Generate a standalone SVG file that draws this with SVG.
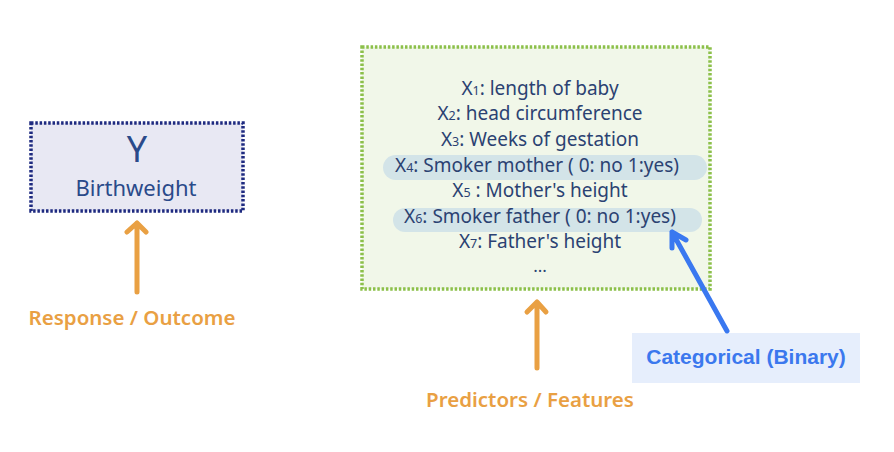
<svg xmlns="http://www.w3.org/2000/svg" width="894" height="452" viewBox="0 0 894 452">
<style>
.t{font-family:"Noto Sans","DejaVu Sans",sans-serif;fill:#2b4272;font-size:19px;text-anchor:middle}
.s{font-size:12.5px}
.lbl{font-family:"Noto Sans","DejaVu Sans",sans-serif;fill:#e9a043;font-size:20.5px;font-weight:600;text-anchor:middle}
.hl{fill:#d3e4e8}
.oa{stroke:#e9a043;stroke-width:5;fill:none;stroke-linecap:round;stroke-linejoin:round}
.ba{stroke:#3a78f0;stroke-width:5;fill:none;stroke-linecap:round;stroke-linejoin:round}
</style>
<rect width="894" height="452" fill="#ffffff"/>
<g id="response">
<rect x="31" y="123" width="212" height="88" fill="#e8e8f3" stroke="#1e2a80" stroke-width="3.5" stroke-dasharray="2.5 1.8"/>
<text x="137" y="162" class="t" style="font-size:36px;fill:#2a4a8a">Y</text>
<text x="136" y="196" class="t" style="font-size:22px;fill:#2a4a8a">Birthweight</text>
</g>
<g id="predictors">
<rect x="362" y="47" width="348" height="242" fill="#f1f7e9" stroke="#8cc04a" stroke-width="3.5" stroke-dasharray="2.5 1.8"/>
<rect x="383" y="155" width="324" height="25" rx="12.5" class="hl"/>
<rect x="393" y="208" width="309" height="24" rx="12" class="hl"/>
<text x="540" y="95" class="t">X<tspan class="s">1</tspan>: length of baby</text>
<text x="540" y="120" class="t">X<tspan class="s">2</tspan>: head circumference</text>
<text x="540" y="146" class="t">X<tspan class="s">3</tspan>: Weeks of gestation</text>
<text x="537" y="172" class="t">X<tspan class="s">4</tspan>: Smoker mother ( 0: no 1:yes)</text>
<text x="540" y="197" class="t">X<tspan class="s">5</tspan> : Mother's height</text>
<text x="540" y="223" class="t">X<tspan class="s">6</tspan>: Smoker father ( 0: no 1:yes)</text>
<text x="540" y="248" class="t">X<tspan class="s">7</tspan>: Father's height</text>
<text x="540" y="272" class="t" style="font-size:17px">...</text>
</g>
<g id="categorical">
<rect x="632" y="333" width="228" height="50" fill="#e6eefc"/>
<text x="746" y="364" style="font-family:'Liberation Sans',Arial,sans-serif;font-size:21px;font-weight:bold;fill:#3b78ee;text-anchor:middle">Categorical (Binary)</text>
</g>
<g id="response-label">
<text x="132" y="325" class="lbl">Response / Outcome</text>
</g>
<g id="predictors-label">
<text x="530" y="407" class="lbl">Predictors / Features</text>
</g>
<g id="connectors">
<path class="oa" d="M137 292 V223 M127 232 L137 223 L146 232"/>
<path class="oa" d="M537 368 V302 M527 312 L537 302 L546 312"/>
<path class="ba" d="M727 331 L672 232 M672 248 L672 232 L686 240"/>
</g>
</svg>
